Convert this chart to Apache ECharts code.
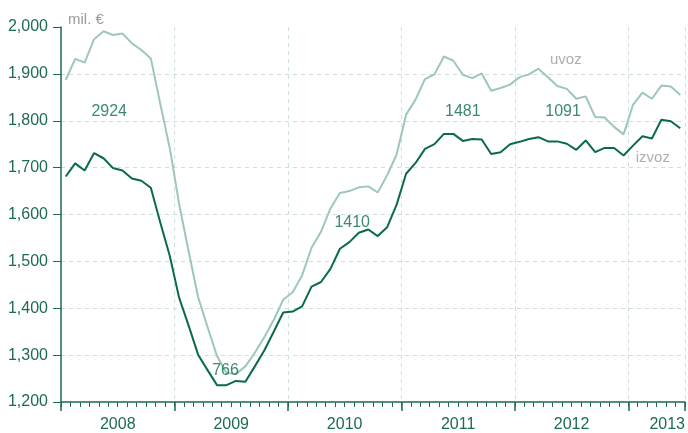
<!DOCTYPE html>
<html>
<head>
<meta charset="utf-8">
<script src="https://cdn.jsdelivr.net/npm/echarts@6/dist/echarts.min.js"></script>
<style>
  html, body { margin: 0; padding: 0; background: #fff; }
  #main { width: 688px; height: 433px; }
</style>
</head>
<body>
<div id="main"></div>
<script>
// mjesečni podaci, siječanj 2008 - lipanj 2013 (mil. €)
var years = ['2008', '2009', '2010', '2011', '2012', '2013'];
var uvoz = [
    1887, 1932, 1924, 1974, 1991, 1983, 1986, 1965, 1951, 1933, 1836, 1742,
    1622, 1521, 1424, 1360, 1298, 1262, 1260, 1276, 1305, 1338, 1375, 1418,
    1434, 1470, 1529, 1563, 1613, 1646, 1650, 1658, 1660, 1647, 1684, 1728,
    1813, 1845, 1889, 1899, 1937, 1928, 1898, 1891, 1901, 1864, 1870, 1877,
    1893, 1899, 1911, 1893, 1874, 1868, 1847, 1852, 1808, 1807, 1787, 1771,
    1834, 1860, 1847, 1875, 1873, 1855
];
var izvoz = [
    1681, 1709, 1694, 1731, 1720, 1699, 1694, 1677, 1672, 1657, 1583, 1512,
    1422, 1363, 1301, 1268, 1236, 1236, 1245, 1243, 1276, 1310, 1350, 1391,
    1393, 1404, 1446, 1456, 1484, 1527, 1541, 1561, 1568, 1554, 1573, 1621,
    1687, 1710, 1740, 1750, 1772, 1772, 1757, 1761, 1760, 1729, 1733, 1750,
    1755, 1761, 1765, 1756, 1756, 1751, 1738, 1758, 1733, 1742, 1742, 1726,
    1747, 1767, 1762, 1802, 1799, 1784
];
// natpisi na grafu (mjesec od početka 2008., vrijednost)
var annoText = ['2924', '766', '1410', '1481', '1091', 'uvoz', 'izvoz'];
var annoMonth = [5.1, 17.4, 30.8, 42.5, 53.1, 53.4, 62.6];
var annoValue = [1819, 1266, 1583, 1819, 1819, 1930, 1720];

var dark = '#0b6a4e';
var light = '#9dc8b7';
var axisColor = '#1d6b53';
var gridColor = '#cbe0d8';
var grey = '#9a9a9a';
var font = '"Liberation Sans", Arial, sans-serif';

function points(values) {
    return values.map(function (v, i) { return [i + 0.5, v]; });
}

var nMonths = uvoz.length;
var annoData = annoText.map(function (t, i) {
    var isName = (t == 'uvoz' || t == 'izvoz');
    return {
        value: [annoMonth[i], annoValue[i]],
        label: {
            formatter: t,
            color: isName ? grey : dark,
            fontSize: isName ? 15 : 16
        }
    };
});

var chart = echarts.init(document.getElementById('main'));
var option = {
    animation: false,
    grid: { left: 61, top: 27, width: nMonths * 9.525, height: 376 },
    xAxis: [
        {
            type: 'value', position: 'bottom', min: 0, max: nMonths, interval: 1,
            axisLine: { show: true, lineStyle: { color: axisColor, width: 1.5 } },
            axisTick: { show: true, length: 5, lineStyle: { color: axisColor, width: 1 } },
            axisLabel: { show: false },
            splitLine: { show: false }
        },
        {
            type: 'value', position: 'bottom', min: 0, max: nMonths, interval: 12,
            axisLine: { show: false },
            axisTick: { show: true, length: 9, lineStyle: { color: axisColor, width: 1.5 } },
            axisLabel: { show: false },
            splitLine: { show: true, lineStyle: { color: gridColor, type: [4, 4], width: 1 } }
        },
        {
            type: 'value', position: 'bottom', min: 0, max: nMonths, interval: 6,
            axisLine: { show: false },
            axisTick: { show: false },
            splitLine: { show: false },
            axisLabel: {
                show: true, margin: 15, color: axisColor, fontSize: 16, fontFamily: font,
                alignMaxLabel: 'right',
                formatter: function (v) {
                    if (v % 12 == 6) return years[(v - 6) / 12];
                    return '';
                }
            }
        }
    ],
    yAxis: {
        type: 'value', min: 1200, max: 2000, interval: 100,
        name: 'mil. €', nameLocation: 'end', nameGap: 7,
        nameTextStyle: { color: grey, fontSize: 15, fontFamily: font, align: 'left', verticalAlign: 'middle', padding: [0, 0, 0, 7] },
        axisLine: { show: true, lineStyle: { color: axisColor, width: 1.5 } },
        axisTick: { show: true, length: 8, lineStyle: { color: axisColor, width: 1 } },
        axisLabel: {
            margin: 13, color: axisColor, fontSize: 16, fontFamily: font,
            formatter: function (v) { return echarts.format.addCommas(v); }
        },
        splitLine: {
            show: true,
            lineStyle: {
                color: ['transparent', gridColor, gridColor, gridColor, gridColor, gridColor, gridColor, gridColor, 'transparent'],
                type: [4, 4], width: 1
            }
        }
    },
    series: [
        {
            name: 'uvoz', type: 'line', xAxisIndex: 0, data: points(uvoz),
            symbol: 'none', lineStyle: { color: light, width: 2 }, z: 2
        },
        {
            name: 'izvoz', type: 'line', xAxisIndex: 0, data: points(izvoz),
            symbol: 'none', lineStyle: { color: dark, width: 2 }, z: 3
        },
        {
            type: 'scatter', xAxisIndex: 0, data: annoData, silent: true,
            symbolSize: 1, itemStyle: { color: 'transparent' }, z: 4,
            label: { show: true, position: 'inside', fontFamily: font }
        }
    ]
};
chart.setOption(option);
</script>
</body>
</html>
